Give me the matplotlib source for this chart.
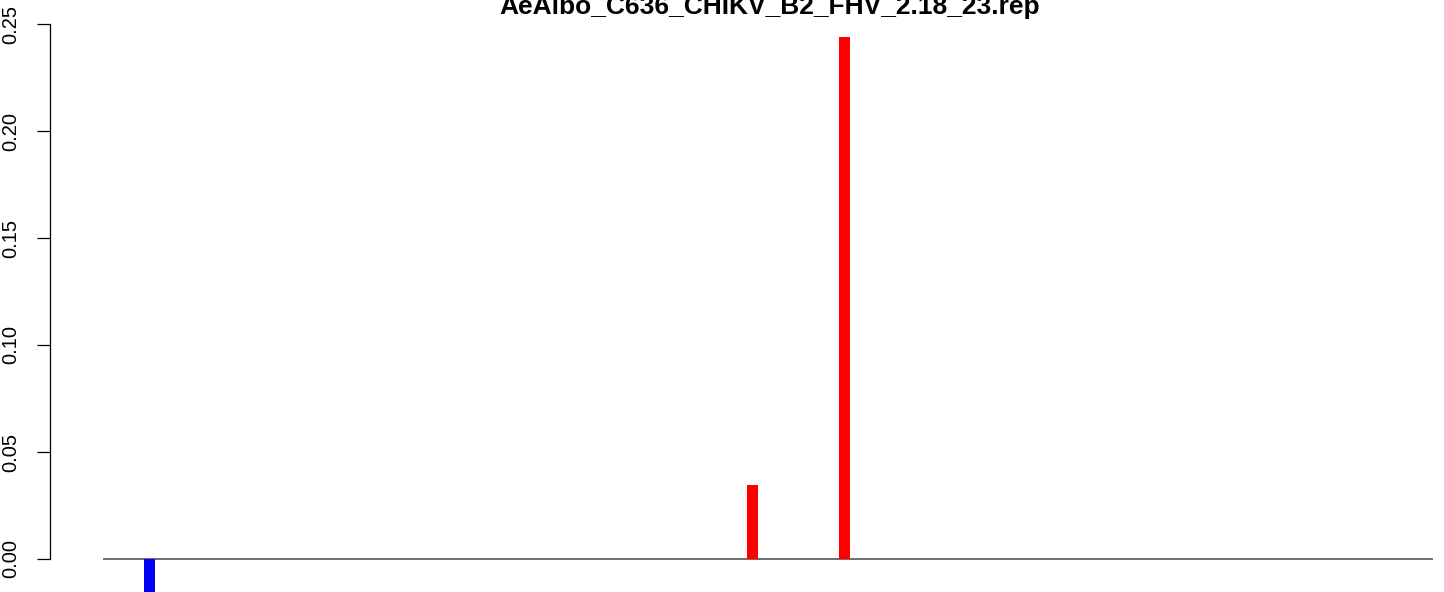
import matplotlib
matplotlib.use("Agg")
import matplotlib.pyplot as plt

# Data (genome positions along FHV RNA2, ~1400 nt)
title = "AeAlbo_C636_CHIKV_B2_FHV_2.18_23.rep"
genome_length = 1400
sense_pos = [684, 781]
sense_val = [0.0346, 0.2439]
anti_pos = [50]
anti_val = [-0.02]
yticks = [0.00, 0.05, 0.10, 0.15, 0.20, 0.25]
ytick_labels = ["0.00", "0.05", "0.10", "0.15", "0.20", "0.25"]

W, H = 1444, 592
fig = plt.figure(figsize=(W / 100, H / 100), dpi=100)
plt.rcParams['font.family'] = ['Liberation Sans', 'DejaVu Sans']

# plot region: x from 50 px to 1486 px (extends beyond figure), full height
left_px, right_px = 50, 1486
ax = fig.add_axes([left_px / W, 0.0, (right_px - left_px) / W, 1.0])
ax.patch.set_alpha(0)

xr = genome_length - 1
ax.set_xlim(1 - 0.04 * xr, genome_length + 0.04 * xr)
px_per_unit = (559 - 24) / 0.25
ax.set_ylim((559 - 592) / px_per_unit, 559 / px_per_unit)

bw = 11.6
ax.plot([1, genome_length], [0, 0], color="#6e6e6e", lw=1.4, zorder=1, solid_capstyle="butt")
ax.bar(sense_pos, sense_val, width=bw, color="#FF0000", edgecolor="none", zorder=2)
ax.bar(anti_pos, anti_val, width=bw, color="#0000FF", edgecolor="none", zorder=2)

for s in ["top", "right", "bottom"]:
    ax.spines[s].set_visible(False)
ax.spines["left"].set_bounds(0, 0.25)
ax.spines["left"].set_linewidth(0.9)
ax.set_xticks([])
ax.set_yticks(yticks)
ax.set_yticklabels(ytick_labels, rotation=90, va="center", fontsize=14.5)
ax.tick_params(axis="y", length=9.4, width=0.9, pad=12)

fig.text(769.5 / W, 1 - 14 / H, title, ha="center", va="baseline",
         fontsize=19, fontweight="bold")

fig.savefig("out.png", dpi=100)
